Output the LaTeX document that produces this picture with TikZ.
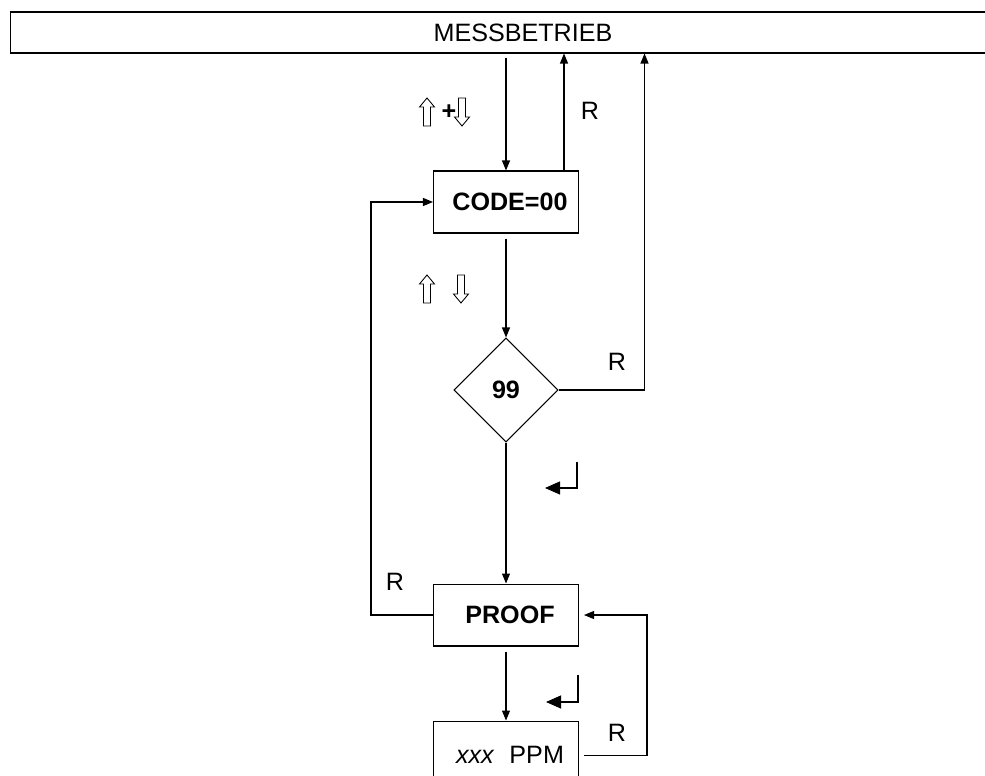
\documentclass[tikz,border=0pt]{standalone}
\usepackage{fontspec}
\setmainfont{Liberation Sans}
\usetikzlibrary{positioning, shapes.geometric, arrows.meta}

\begin{document}
\begin{tikzpicture}[
    x=0.02cm, y=-0.02cm,
    font=\fontsize{14.3}{17}\selectfont,
    line width=0.6pt,
    bar/.style={draw, minimum width=20.52cm, minimum height=0.82cm, inner sep=0pt},
    box/.style={draw, minimum width=2.9cm, minimum height=1.24cm, inner sep=0pt,
                font=\fontsize{14.3}{17}\selectfont\bfseries,
                execute at begin node={\hspace*{0.16cm}}},
    decision/.style={draw, diamond, minimum size=2.08cm, inner sep=0pt,
                font=\fontsize{14.3}{17}\selectfont\bfseries},
    arrow/.style={-{Triangle[length=0.2cm, width=0.16cm]}},
    enter/.style={-{Triangle[length=0.3cm, width=0.26cm]}},
    lbl/.style={inner sep=0pt},
    upkey/.pic={\draw[line width=0.5pt] (0,-14) -- (7.5,-5) -- (3.5,-5) -- (3.5,14)
                -- (-3.5,14) -- (-3.5,-5) -- (-7.5,-5) -- cycle;},
    downkey/.pic={\draw[line width=0.5pt] (0,14) -- (7.5,5) -- (3.5,5) -- (3.5,-14)
                -- (-3.5,-14) -- (-3.5,5) -- (-7.5,5) -- cycle;}
]
\useasboundingbox (0,0) rectangle (985,776);

\node[bar] (mess) at (523,32.5) {MESSBETRIEB};
\node[box] (code) at (506,202) {CODE=00};
\node[decision, below=2.08cm of code] (check) {99};
\node[box, below=2.82cm of check] (proof) {PROOF};
\node[box, below=1.48cm of proof, minimum height=1.36cm,
      font=\fontsize{14.3}{17}\selectfont] (ppm) {\textit{xxx}\hspace{0.3cm}PPM};

% key symbols
\pic at (427,112) {upkey};
\node[lbl] (plus) at (449,112) {\textbf{+}};
\pic at (462,112) {downkey};
\pic at (427,289) {upkey};
\pic at (461,289) {downkey};

% labels
\node[lbl] (r1) at (590,111) {R};
\node[lbl] (r2) at (617,362) {R};
\node[lbl] (r3) at (395,582) {R};
\node[lbl] (r4) at (617,733) {R};

% main flow
\draw[arrow] ([yshift=-0.08cm]mess.south -| code.north) -- (code.north);
\draw[arrow] ([xshift=-0.3cm]code.north east) -- ([xshift=-0.3cm]code.north east |- mess.south);
\draw[arrow] ([yshift=-0.1cm]code.south) -- (check.north);
\draw[arrow] (check.east) -- ++(86,0) coordinate (rcorner) -- (rcorner |- mess.south);
\draw[arrow] (check.south) -- (proof.north);
\draw[arrow] ([yshift=-0.1cm]proof.south) -- (ppm.north);

% return loops
\draw[arrow] (proof.west) -- ++(-62,0) |- (code.west);
\draw[arrow] ([xshift=0.1cm]ppm.east) -- ++(63,0) |- ([xshift=0.1cm]proof.east);

% enter keys
\coordinate (e1) at (577,462);
\draw[enter] (e1) -- ++(0,26) -- ++(-32,0);
\coordinate (e2) at (578,675);
\draw[enter] (e2) -- ++(0,27) -- ++(-32,0);
\end{tikzpicture}
\end{document}
